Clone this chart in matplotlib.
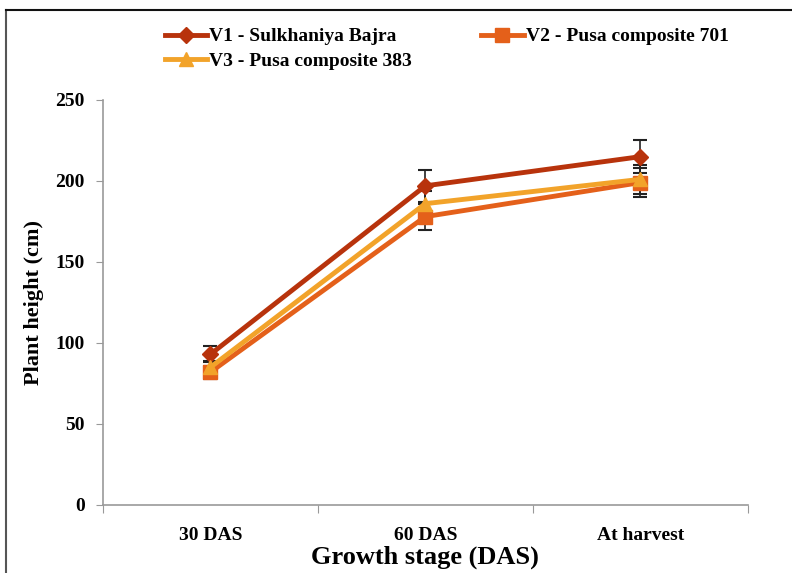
import matplotlib
matplotlib.use("Agg")
import matplotlib.pyplot as plt
from matplotlib.lines import Line2D

stages = ["30 DAS", "60 DAS", "At harvest"]
v1 = [93, 197, 215]
v2 = [82, 178, 199]
v3 = [85, 186, 201]
v1_err = [5, 10, 10]
v2_err = [4, 8, 9]
v3_err = [4, 8, 9]
labels = ["V1 - Sulkhaniya Bajra", "V2 - Pusa composite 701", "V3 - Pusa composite 383"]
yticks = [0, 50, 100, 150, 200, 250]

plt.rcParams["font.family"] = ["Liberation Serif", "DejaVu Serif"]
plt.rcParams["font.weight"] = "bold"

fig = plt.figure(figsize=(7.92, 5.73), dpi=100)
ax = fig.add_axes([0.130, 0.1187, 0.814, 0.7068])

x = list(range(len(stages)))
series = [
    (v1, v1_err, "#B8330C", "D", 8, labels[0]),
    (v2, v2_err, "#E4601A", "s", 10, labels[1]),
    (v3, v3_err, "#F2A32A", "^", 10, labels[2]),
]
handles = []
for vals, err, col, mk, ms, lab in series:
    ax.errorbar(x, vals, yerr=err, fmt="none", ecolor="#222222", elinewidth=1.2,
                capsize=5, capthick=1.5, zorder=2)
    h, = ax.plot(x, vals, color=col, lw=3.5, marker=mk, markersize=ms,
                 markerfacecolor=col, markeredgecolor=col, label=lab, zorder=3)
    handles.append(h)

ax.set_xlim(-0.5, 2.5)
ax.set_ylim(0, 250)
ax.set_xticks([-0.5, 0.5, 1.5, 2.5])
ax.set_xticklabels([])
ax.set_xticks(x, minor=True)
ax.set_xticklabels(stages, minor=True)
ax.tick_params(axis="x", which="minor", length=0, pad=16, labelsize=14)
ax.tick_params(axis="x", which="major", length=6, color="#999999", direction="out")
ax.set_yticks(yticks)
ax.tick_params(axis="y", labelsize=14, length=5, color="#999999", pad=8)
for t in ax.get_yticklabels() + ax.get_xticklabels(minor=True):
    t.set_fontweight("bold")

for s in ["top", "right"]:
    ax.spines[s].set_visible(False)
for s in ["left", "bottom"]:
    ax.spines[s].set_color("#999999")
    ax.spines[s].set_linewidth(1.2)

ax.set_ylabel("Plant height (cm)", fontsize=16, fontweight="bold", labelpad=8)
ax.set_xlabel("Growth stage (DAS)", fontsize=19, fontweight="bold", labelpad=1)

# legend fills column-wise, so order entries to read row-wise
leg_order = [0, 2, 1]
fig.legend(handles=[handles[i] for i in leg_order],
           labels=[labels[i] for i in leg_order], ncol=2, loc="upper left",
           bbox_to_anchor=(0.198, 0.965), frameon=False,
           prop={"size": 14, "weight": "bold"}, handlelength=2.2,
           handletextpad=0.1, columnspacing=3.55, labelspacing=0.35,
           borderaxespad=0)

# page frame lines
fig.add_artist(Line2D([0.007, 0.007], [0.0, 0.983], transform=fig.transFigure,
                      color="#555555", lw=1.5))
fig.add_artist(Line2D([0.007, 1.0], [0.983, 0.983], transform=fig.transFigure,
                      color="#111111", lw=1.5))

fig.savefig("out.png", dpi=100)
